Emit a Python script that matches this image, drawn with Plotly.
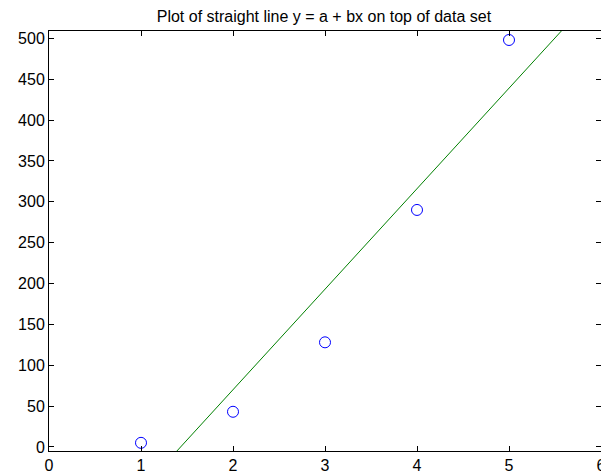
import numpy as np
import plotly.graph_objects as go

# Data set
x_data = [1, 2, 3, 4, 5]
y_data = [5, 43, 128, 290, 498]

# Straight line y = a + bx
a = -176.0
b = 123.0
x_line = [0, 6]
y_line = [a + b * xv for xv in x_line]

x_ticks = [0, 1, 2, 3, 4, 5, 6]
y_ticks = [0, 50, 100, 150, 200, 250, 300, 350, 400, 450, 500]

fig = go.Figure()
fig.add_trace(go.Scatter(
    x=x_line, y=y_line, mode="lines",
    line=dict(color="#008000", width=1),
    showlegend=False, cliponaxis=True,
))
fig.add_trace(go.Scatter(
    x=x_data, y=y_data, mode="markers",
    marker=dict(symbol="circle-open", size=11, color="#0000ff", line=dict(width=1, color="#0000ff")),
    showlegend=False, cliponaxis=False,
))

axis_font = dict(family="Liberation Sans, Arial, sans-serif", size=16, color="#000000")
fig.update_layout(
    width=601, height=475,
    margin=dict(l=49, r=0, t=31, b=24, autoexpand=False),
    paper_bgcolor="white", plot_bgcolor="white",
    title=dict(text="Plot of straight line y = a + bx on top of data set",
               x=0.539, xanchor="center", y=0.966, yanchor="middle",
               font=dict(family="Liberation Sans, Arial, sans-serif", size=16, color="#000000")),
    xaxis=dict(range=[0, 6], tickvals=x_ticks, ticks="inside", ticklen=5,
               tickcolor="#000000", showline=True, linecolor="#000000", linewidth=1,
               mirror="ticks", showgrid=False, zeroline=False, tickfont=axis_font,
               ticklabeloverflow="allow", automargin=False),
    yaxis=dict(range=[-5, 509], tickvals=y_ticks, ticks="inside", ticklen=5,
               tickcolor="#000000", showline=True, linecolor="#000000", linewidth=1,
               mirror="ticks", showgrid=False, zeroline=False, tickfont=axis_font,
               automargin=False),
)
fig.write_html("out.html")
